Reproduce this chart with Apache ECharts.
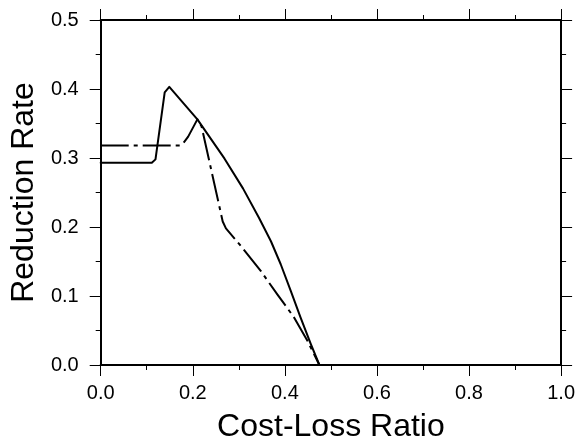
<!DOCTYPE html>
<html>
<head>
<meta charset="utf-8">
<script src="https://cdn.jsdelivr.net/npm/echarts@6/dist/echarts.min.js"></script>
<style>
  html, body { margin: 0; padding: 0; background: #fff; }
  #chart { width: 578px; height: 448px; }
</style>
</head>
<body>
<div id="chart"></div>
<script>
// solid curve
const solidX = [0, 0.111, 0.119, 0.139, 0.149, 0.210, 0.269, 0.309, 0.344, 0.370, 0.391, 0.413, 0.434, 0.456, 0.475];
const solidY = [0.293, 0.293, 0.298, 0.395, 0.403, 0.356, 0.299, 0.256, 0.213, 0.179, 0.146, 0.107, 0.069, 0.031, 0.0];
// dash-dot curve
const dashX = [0, 0.172, 0.180, 0.190, 0.210, 0.219, 0.265, 0.272, 0.305, 0.348, 0.384, 0.420, 0.449, 0.475];
const dashY = [0.318, 0.318, 0.322, 0.331, 0.356, 0.346, 0.208, 0.198, 0.172, 0.136, 0.102, 0.069, 0.035, 0.0];

const font = "'Liberation Sans', Arial, sans-serif";
const pair = (xs, ys) => xs.map((x, i) => [x, ys[i]]);

const chart = echarts.init(document.getElementById('chart'));

const axisBase = {
    type: 'value',
    splitLine: {show: false},
    axisLine: {show: true, onZero: false, lineStyle: {color: '#000', width: 2}},
    axisTick: {show: true, inside: false, length: 11, lineStyle: {color: '#000', width: 1}},
    minorTick: {show: true, splitNumber: 2, length: 5, lineStyle: {color: '#000', width: 1}},
    minorSplitLine: {show: false},
};

chart.setOption({
    animation: false,
    textStyle: {fontFamily: font},
    grid: {left: 98, right: 16, top: 20, bottom: 80},
    xAxis: [
        Object.assign({}, axisBase, {
            position: 'bottom',
            min: 0, max: 1, interval: 0.2,
            name: 'Cost-Loss Ratio',
            nameLocation: 'middle',
            nameGap: 46,
            nameTextStyle: {fontSize: 32, color: '#000', fontFamily: font},
            axisLabel: {
                margin: 18, fontSize: 20, color: '#000', fontFamily: font,
                formatter: v => v.toFixed(1)
            }
        }),
        Object.assign({}, axisBase, {
            position: 'top',
            min: 0, max: 1, interval: 0.2,
            axisLabel: {show: false}
        })
    ],
    yAxis: [
        Object.assign({}, axisBase, {
            position: 'left',
            min: 0, max: 0.5, interval: 0.1,
            name: 'Reduction Rate',
            nameLocation: 'middle',
            nameGap: 58,
            nameTextStyle: {fontSize: 32, color: '#000', fontFamily: font},
            axisLabel: {
                margin: 22, fontSize: 20, color: '#000', fontFamily: font,
                formatter: v => v.toFixed(1)
            }
        }),
        Object.assign({}, axisBase, {
            position: 'right',
            min: 0, max: 0.5, interval: 0.1,
            axisLabel: {show: false}
        })
    ],
    series: [
        {
            type: 'line',
            data: pair(solidX, solidY),
            showSymbol: false,
            lineStyle: {color: '#000', width: 2, join: 'round', cap: 'round'}
        },
        {
            type: 'line',
            data: pair(dashX, dashY),
            showSymbol: false,
            lineStyle: {color: '#000', width: 2, type: [28, 5, 4, 5], join: 'round'}
        }
    ]
});
</script>
</body>
</html>
